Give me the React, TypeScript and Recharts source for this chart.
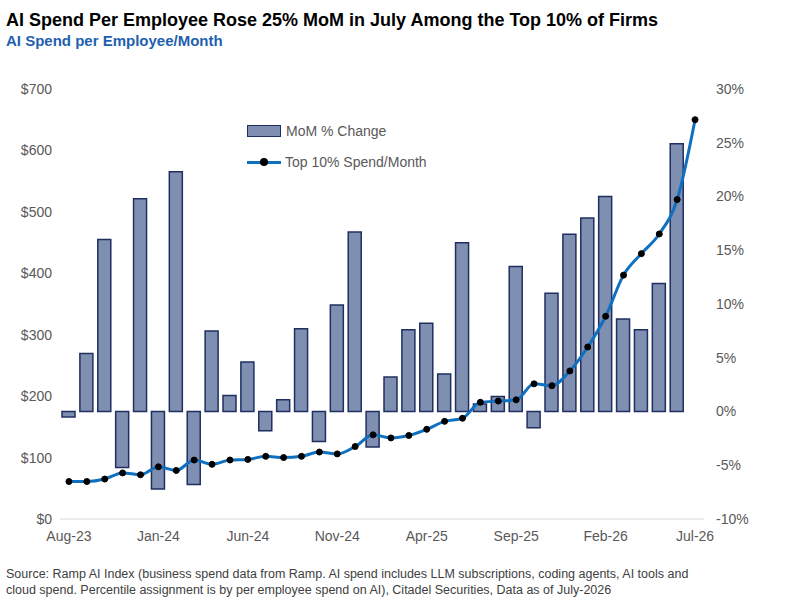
import { ComposedChart, Bar, Line, XAxis, YAxis } from 'recharts'

const months = [
  'Aug-23', 'Sep-23', 'Oct-23', 'Nov-23', 'Dec-23', 'Jan-24', 'Feb-24', 'Mar-24', 'Apr-24', 'May-24',
  'Jun-24', 'Jul-24', 'Aug-24', 'Sep-24', 'Oct-24', 'Nov-24', 'Dec-24', 'Jan-25', 'Feb-25', 'Mar-25',
  'Apr-25', 'May-25', 'Jun-25', 'Jul-25', 'Aug-25', 'Sep-25', 'Oct-25', 'Nov-25', 'Dec-25', 'Jan-26',
  'Feb-26', 'Mar-26', 'Apr-26', 'May-26', 'Jun-26', 'Jul-26',
]

// MoM % change (plotted one slot early, as in the source chart)
const momChange = [
  -0.5, 5.4, 16.0, -5.2, 19.8, -7.2, 22.3, -6.8, 7.5, 1.5,
  4.6, -1.8, 1.1, 7.7, -2.8, 9.9, 16.7, -3.3, 3.2, 7.6,
  8.2, 3.5, 15.7, 0.7, 1.4, 13.5, -1.5, 11.0, 16.5, 18.0,
  20.0, 8.6, 7.6, 11.9, 24.9, null,
]

const topSpend = [
  61, 61, 65, 75, 72, 85, 79, 96, 89, 96,
  97, 102, 100, 102, 109, 106, 118, 137, 132, 136,
  146, 159, 164, 190, 192, 194, 220, 217, 241, 280,
  330, 397, 432, 464, 520, 650,
]

const leftTicks = [0, 100, 200, 300, 400, 500, 600, 700]
const rightTicks = [-10, -5, 0, 5, 10, 15, 20, 25, 30]

const data = months.map((m, i) => ({ month: m, mom: momChange[i], spend: topSpend[i] }))

const font = 'Arial, "Liberation Sans", sans-serif'
const tickStyle = { fill: '#595959', fontSize: 14, fontFamily: font }

export default function App() {
  return (
    <div style={{ position: 'absolute', left: 0, top: 0, width: 810, height: 603, background: '#fff', fontFamily: font }}>
      <div style={{ position: 'absolute', left: 6, top: 10, fontSize: 18, fontWeight: 'bold', color: '#000' }}>
        AI Spend Per Employee Rose 25% MoM in July Among the Top 10% of Firms
      </div>
      <div style={{ position: 'absolute', left: 6, top: 32, fontSize: 15, fontWeight: 'bold', color: '#1f5fb0' }}>
        AI Spend per Employee/Month
      </div>
      <ComposedChart
        width={810}
        height={560}
        data={data}
        margin={{ top: 89, right: 46, bottom: 11, left: 8 }}
        barSize={13}
      >
        <XAxis
          dataKey="month"
          interval={4}
          tick={tickStyle}
          tickLine={false}
          axisLine={{ stroke: '#d9d9d9' }}
          height={30}
          tickMargin={6}
        />
        <YAxis
          yAxisId="left"
          domain={[0, 700]}
          ticks={leftTicks}
          tickFormatter={(v) => `$${v}`}
          tick={tickStyle}
          axisLine={false}
          tickLine={false}
          width={52}
        />
        <YAxis
          yAxisId="right"
          orientation="right"
          domain={[-10, 30]}
          ticks={rightTicks}
          tickFormatter={(v) => `${v}%`}
          tick={{ ...tickStyle, textAnchor: 'start' }}
          axisLine={false}
          tickLine={false}
          width={60}
          tickMargin={6}
        />
        <Bar yAxisId="right" dataKey="mom" fill="#7f8fb2" stroke="#1f2f60" strokeWidth={1.5} isAnimationActive={false} />
        <Line
          yAxisId="left"
          dataKey="spend"
          type="monotone"
          stroke="#1070c0"
          strokeWidth={3}
          dot={{ r: 3, fill: '#000', stroke: '#000', strokeWidth: 1 }}
          isAnimationActive={false}
        />
      </ComposedChart>
      <div style={{ position: 'absolute', left: 247, top: 123, display: 'flex', alignItems: 'center', fontSize: 14, color: '#595959' }}>
        <div style={{ width: 32, height: 10, background: '#7f8fb2', border: '1.5px solid #1f2f60', marginRight: 5 }} />
        MoM % Change
      </div>
      <div style={{ position: 'absolute', left: 247, top: 154, display: 'flex', alignItems: 'center', fontSize: 14, color: '#595959' }}>
        <div style={{ position: 'relative', width: 34, height: 3, background: '#1070c0', marginRight: 4 }}>
          <div style={{ position: 'absolute', left: 13, top: -3, width: 8, height: 8, borderRadius: 4, background: '#000' }} />
        </div>
        Top 10% Spend/Month
      </div>
      <div style={{ position: 'absolute', left: 6, top: 566, fontSize: 12.5, color: '#404040', lineHeight: '16px' }}>
        Source: Ramp AI Index (business spend data from Ramp. AI spend includes LLM subscriptions, coding agents, AI tools and
        <br />
        cloud spend. Percentile assignment is by per employee spend on AI), Citadel Securities, Data as of July-2026
      </div>
    </div>
  )
}
